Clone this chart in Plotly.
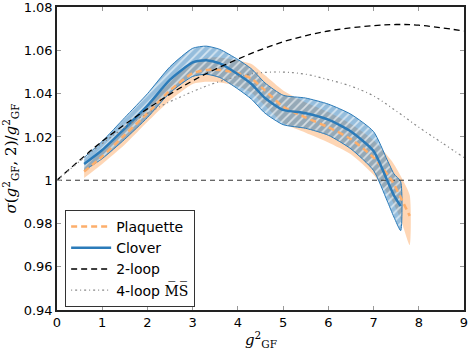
import plotly.graph_objects as go

# Clover data
clover_g = [0.6, 1.0, 1.5, 2.0, 2.5, 3.0, 3.3, 3.6, 4.0, 4.3, 4.6, 5.0, 5.5, 6.0, 6.5, 7.0, 7.3, 7.45, 7.6]
clover_mid = [1.0075, 1.014, 1.024, 1.0345, 1.0465, 1.0545, 1.0555, 1.054, 1.049, 1.0445, 1.038, 1.0325, 1.031, 1.028, 1.0225, 1.0135, 1.000, 0.993, 0.988]
clover_hi = [1.0105, 1.018, 1.029, 1.040, 1.0525, 1.061, 1.062, 1.0605, 1.0558, 1.0515, 1.045, 1.0393, 1.038, 1.0352, 1.0305, 1.0225, 1.0095, 1.003, 0.9993]
clover_lo = [1.0045, 1.010, 1.019, 1.029, 1.0405, 1.048, 1.049, 1.0475, 1.0422, 1.0375, 1.031, 1.0257, 1.024, 1.0208, 1.0145, 1.0045, 0.9905, 0.983, 0.9767]

# Plaquette data
plaq_g = [0.6, 1.0, 1.5, 2.0, 2.5, 3.0, 3.3, 3.6, 4.0, 4.3, 4.6, 5.0, 5.5, 6.0, 6.5, 7.0, 7.4, 7.6, 7.8]
plaq_mid = [1.004, 1.011, 1.021, 1.031, 1.0415, 1.0495, 1.051, 1.051, 1.0495, 1.047, 1.0415, 1.034, 1.029, 1.0245, 1.019, 1.0105, 1.000, 0.992, 0.9835]
plaq_hi = [1.007, 1.0145, 1.0255, 1.035, 1.046, 1.0545, 1.0565, 1.0568, 1.0555, 1.0537, 1.0485, 1.0415, 1.036, 1.0315, 1.026, 1.0185, 1.009, 1.002, 0.993]
plaq_lo = [1.001, 1.0075, 1.0165, 1.027, 1.037, 1.0445, 1.0455, 1.0452, 1.0435, 1.0405, 1.0345, 1.0265, 1.022, 1.0175, 1.012, 1.0025, 0.991, 0.982, 0.970]

# perturbative curves
pt_g = [0, 1, 2, 3, 4, 5, 6, 7, 7.5, 8, 9]
two_loop = [1.0, 1.018, 1.033, 1.046, 1.056, 1.064, 1.069, 1.0715, 1.072, 1.0717, 1.069]
four_g = [0, 1, 2, 3, 3.5, 4, 4.5, 5, 5.5, 6, 6.5, 7, 7.5, 8, 8.5, 9]
four_loop = [1.0, 1.017, 1.031, 1.041, 1.045, 1.048, 1.0497, 1.050, 1.049, 1.0465, 1.0435, 1.039, 1.032, 1.0245, 1.0175, 1.0105]

xticks = [0, 1, 2, 3, 4, 5, 6, 7, 8, 9]
yticks = [0.94, 0.96, 0.98, 1.0, 1.02, 1.04, 1.06, 1.08]
ylabels = ["0.94", "0.96", "0.98", "1", "1.02", "1.04", "1.06", "1.08"]

blue = "#2b7bb9"
orange = "#fdae6b"

fig = go.Figure()

# plaquette band
fig.add_trace(go.Scatter(x=plaq_g + plaq_g[::-1], y=plaq_hi + plaq_lo[::-1], mode="lines",
                         line=dict(width=0, shape="spline", smoothing=0.6), fill="toself",
                         fillcolor="rgba(253,174,107,0.5)", showlegend=False, hoverinfo="skip"))

# clover band, hatched
fig.add_trace(go.Scatter(x=clover_g + clover_g[::-1], y=clover_hi + clover_lo[::-1], mode="lines",
                         line=dict(width=1, color=blue, shape="spline", smoothing=0.6), fill="toself",
                         fillcolor="rgba(43,123,185,0.5)",
                         fillpattern=dict(shape="/", fgcolor="rgba(255,255,255,0.6)",
                                          bgcolor="rgba(43,123,185,0.5)", size=6, solidity=0.3,
                                          fillmode="replace"),
                         showlegend=False, hoverinfo="skip"))

# horizontal line at 1
fig.add_trace(go.Scatter(x=[0, 9], y=[1, 1], mode="lines", line=dict(color="#333", width=1, dash="5px,4px"),
                         showlegend=False, hoverinfo="skip"))

fig.add_trace(go.Scatter(x=plaq_g, y=plaq_mid, mode="lines", name="Plaquette",
                         line=dict(color=orange, width=2.5, dash="6px,4px", shape="spline", smoothing=0.6)))
fig.add_trace(go.Scatter(x=clover_g, y=clover_mid, mode="lines", name="Clover",
                         line=dict(color=blue, width=2.5, shape="spline", smoothing=0.6)))
fig.add_trace(go.Scatter(x=pt_g, y=two_loop, mode="lines", name="2-loop",
                         line=dict(color="black", width=1.3, dash="6px,4px", shape="spline")))
fig.add_trace(go.Scatter(x=four_g, y=four_loop, mode="lines", name="4-loop <span style='font-family:DejaVu Serif'>M\u0305S\u0305</span>",
                         line=dict(color="#888", width=1.2, dash="1px,3px,2px,3px", shape="spline")))

axis_common = dict(showline=True, linecolor="#222", linewidth=1.5, mirror="ticks", ticks="inside",
                   ticklen=4, tickcolor="#999", showgrid=False, zeroline=False, automargin=False,
                   ticklabeloverflow="allow",
                   tickfont=dict(family="DejaVu Sans", size=13, color="black"))

fig.update_xaxes(range=[0, 9.0001], tickvals=xticks, **axis_common)
fig.update_yaxes(range=[0.94, 1.0801], tickvals=yticks, ticktext=ylabels, **axis_common,
                 title=dict(text="<i>σ</i>(<i>g</i><sup>2</sup><sub>GF</sub>, 2)/<i>g</i><sup>2</sup><sub>GF</sub>",
                            font=dict(family="DejaVu Serif", size=15, color="black")))

# x-axis title placed by hand
fig.add_annotation(text="<i>g</i><sup>2</sup><sub>GF</sub>", xref="paper", yref="paper", x=0.5, y=0,
                   xanchor="center", yanchor="top", yshift=-17, showarrow=False,
                   font=dict(family="DejaVu Serif", size=15, color="black"))

fig.update_layout(
    width=469, height=352,
    margin=dict(l=57, r=5, t=7, b=42),
    plot_bgcolor="white", paper_bgcolor="white",
    legend=dict(x=0.02, y=0.33, xanchor="left", yanchor="top", bgcolor="white", traceorder="normal",
                bordercolor="#333", borderwidth=1, font=dict(family="DejaVu Sans", size=14, color="black"),
                tracegroupgap=0, itemwidth=40),
)

fig.write_html("out.html", config={"displayModeBar": False},
               post_script="document.body.style.margin='0';document.body.style.overflow='hidden';")
